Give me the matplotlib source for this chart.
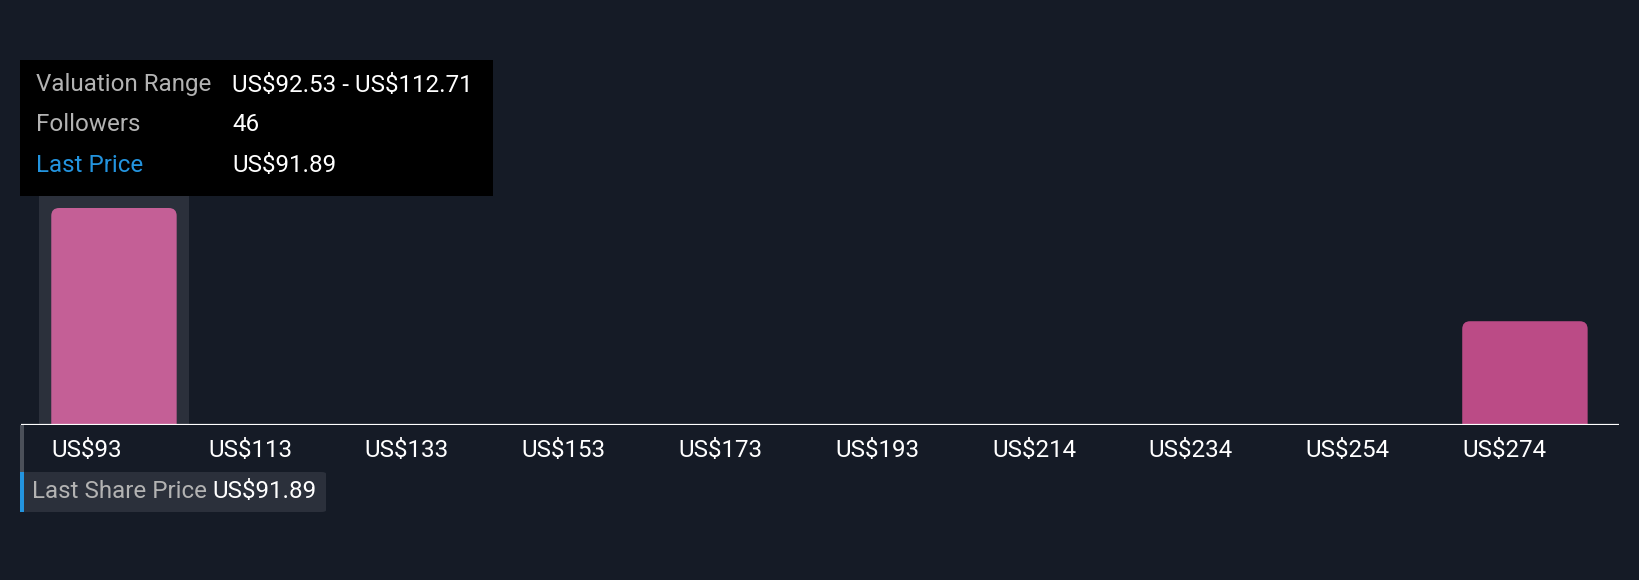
import matplotlib
matplotlib.use("Agg")
import matplotlib.pyplot as plt
import matplotlib.patches as patches

# dane histogramu wycen
bin_labels = ["US$93", "US$113", "US$133", "US$153", "US$173",
              "US$193", "US$214", "US$234", "US$254", "US$274"]
counts = [46, 0, 0, 0, 0, 0, 0, 0, 0, 22]
bar_colors = ["#c45f96"] + ["#bb4b86"] * 9
highlight_bin = 0

tooltip_keys = ["Valuation Range", "Followers", "Last Price"]
tooltip_vals = ["US$92.53 - US$112.71", "46", "US$91.89"]
tooltip_key_colors = ["#b3b3b3", "#b3b3b3", "#2394df"]
last_price_label = "Last Share Price"
last_price_value = "US$91.89"

W, H = 1640, 580
BG = "#151b26"
FS = 17.4
plt.rcParams["font.family"] = ["Roboto", "DejaVu Sans"]
plt.rcParams["text.parse_math"] = False  # znaki $ jako zwykły tekst

fig = plt.figure(figsize=(W / 100, H / 100), dpi=100, facecolor=BG)


def fx(px):
    return px / W


def fy(py):
    return 1 - py / H


# oś wykresu: od linii bazowej (y=425) do y=60
ax = fig.add_axes([fx(21), fy(425), fx(1619) - fx(21), fy(60) - fy(425)])
ax.set_facecolor("none")
ax.set_xlim(-0.593, 9.6)
ax.set_ylim(0, 46 * 365 / 217)
for s in ax.spines.values():
    s.set_visible(False)
ax.set_yticks([])

# podświetlenie aktywnego przedziału
ax.add_patch(patches.Rectangle((highlight_bin - 0.478, 0), 0.956, 100,
                               facecolor="#2b303b", edgecolor="none", zorder=1))

bar_w = 0.8
rx = 0.05
aspect = (46 / 217) * 156.8  # jednostki y na jednostkę x
for i, c in enumerate(counts):
    if c <= 0:
        continue
    p = patches.FancyBboxPatch((i - bar_w / 2, -3), bar_w, c + 3,
                               boxstyle=f"round,pad=0,rounding_size={rx}",
                               mutation_aspect=aspect,
                               facecolor=bar_colors[i], edgecolor="none", zorder=2)
    ax.add_patch(p)

ax.axhline(0, color="white", lw=1.6, zorder=3)

ax.set_xticks([i - bar_w / 2 for i in range(len(bin_labels))])
ax.set_xticklabels(bin_labels, ha="left", color="white", fontsize=FS)
ax.tick_params(axis="x", length=0, pad=10)

# szara pionowa kreska i etykieta ostatniej ceny
fig.patches.append(patches.Rectangle((fx(20), fy(472)), fx(4), fy(425) - fy(472),
                                     transform=fig.transFigure, facecolor="#4b5059",
                                     edgecolor="none"))
fig.patches.append(patches.FancyBboxPatch((fx(20), fy(512)), fx(306), fy(472) - fy(512),
                                          boxstyle="round,pad=0,rounding_size=0.003",
                                          transform=fig.transFigure, facecolor="#2b303b",
                                          edgecolor="none"))
fig.patches.append(patches.Rectangle((fx(20), fy(512)), fx(4), fy(472) - fy(512),
                                     transform=fig.transFigure, facecolor="#2394df",
                                     edgecolor="none"))
fig.text(fx(32), fy(492), last_price_label, color="#b3b3b3", fontsize=FS, va="center")
fig.text(fx(212), fy(492), last_price_value, color="white", fontsize=FS, va="center")

# dymek z informacjami
fig.patches.append(patches.Rectangle((fx(20), fy(196)), fx(473), fy(60) - fy(196),
                                     transform=fig.transFigure, facecolor="black",
                                     edgecolor="none", zorder=5))
for k, (key, val, kc) in enumerate(zip(tooltip_keys, tooltip_vals, tooltip_key_colors)):
    y = 85 + 40 * k
    fig.text(fx(36), fy(y), key, color=kc, fontsize=FS, va="center", zorder=6)
    fig.text(fx(232), fy(y), val, color="white", fontsize=FS, va="center", zorder=6)

fig.savefig("out.png", dpi=100, facecolor=BG)
